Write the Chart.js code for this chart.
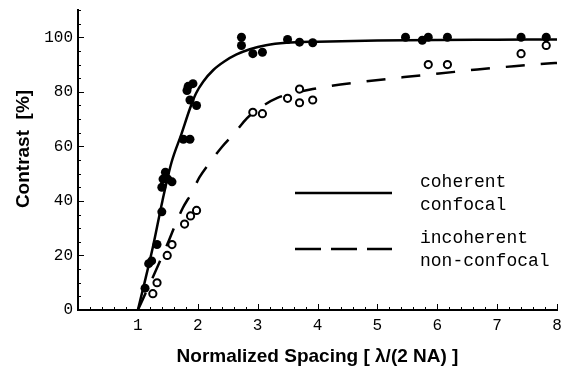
<!DOCTYPE html>
<html>
<head>
<meta charset="utf-8">
<script src="https://cdn.jsdelivr.net/npm/chart.js@4"></script>
<style>
  html, body { margin: 0; padding: 0; background: #fff; }
  #wrap { width: 563px; height: 374px; }
</style>
</head>
<body>
<div id="wrap"><canvas id="chart" width="563" height="374"></canvas></div>
<script>
// measured points, coherent confocal (filled)
const cohX = [1.12, 1.18, 1.23, 1.32, 1.40, 1.40, 1.42, 1.46, 1.50, 1.57, 1.76, 1.87, 1.82, 1.84, 1.92, 1.87, 1.98,
              2.73, 2.73, 2.92, 3.08, 3.5, 3.7, 3.92, 5.47, 5.75, 5.85, 6.17, 7.4, 7.82];
const cohY = [8, 17, 18, 24, 36, 45, 48, 50.5, 48, 47, 62.6, 62.6, 80.5, 82, 83, 77, 75,
              100, 97, 94, 94.5, 99.2, 98.2, 98, 100, 98.9, 100, 100, 100, 100];

// measured points, incoherent non-confocal (open)
const incX = [1.25, 1.32, 1.49, 1.57, 1.78, 1.88, 1.98, 2.92, 3.08, 3.5, 3.7, 3.7, 3.92, 5.85, 6.17, 7.4, 7.82];
const incY = [6, 10, 20, 24, 31.5, 34.5, 36.5, 72.5, 72, 77.6, 81, 76, 77, 90, 90, 94, 97];

// theory curves
const solidX = [1, 1.1, 1.25, 1.41, 1.56, 1.73, 1.87, 1.97, 2.09, 2.26, 2.45, 2.64, 2.87, 3.14, 3.48, 4, 5, 6, 7, 8];
const solidY = [0, 9, 23, 40, 54, 64.7, 73.9, 79.4, 83.7, 88, 91.2, 93.6, 95.6, 97.1, 98, 98.4, 98.8, 99, 99.1, 99.2];

const dashX = [1, 1.25, 1.37, 1.52, 1.62, 1.75, 1.9, 2.03, 2.22, 2.4, 2.62, 2.82, 3.03, 3.33, 3.92, 4.23, 4.8, 5.45, 6.03, 6.67, 7.28, 7.9, 8];
const dashY = [0, 12, 18, 25.6, 31, 37.4, 43, 48.7, 54.6, 59.7, 65, 70.3, 74, 77.8, 81, 82.2, 83.8, 85.4, 86.7, 88.2, 89.4, 90.5, 90.6];

const xTicks = [1, 2, 3, 4, 5, 6, 7, 8];
const yTicks = [0, 20, 40, 60, 80, 100];

const legendItems = [
  { lines: ['coherent', 'confocal'], dash: [] },
  { lines: ['incoherent', 'non-confocal'], dash: [26, 10] }
];

function zip(xs, ys) {
  return xs.map((x, i) => ({ x: x, y: ys[i] }));
}

const monoFont = 'Liberation Mono, Courier New, monospace';
const sansFont = 'Liberation Sans, Arial, Helvetica, sans-serif';

// inward tick marks like the original plot, plus legend and y title
const decor = {
  id: 'decor',
  afterDraw(chart) {
    const { ctx, scales: { x, y } } = chart;
    ctx.save();
    ctx.strokeStyle = '#000';
    ctx.lineWidth = 1;
    const x0 = x.getPixelForValue(0);
    const y0 = y.getPixelForValue(0);
    for (let i = 1; i <= 40; i++) {
      const px = Math.round(x.getPixelForValue(i / 5)) + 0.5;
      const len = i % 5 === 0 ? 6 : 3;
      ctx.beginPath();
      ctx.moveTo(px, y0);
      ctx.lineTo(px, y0 - len);
      ctx.stroke();
    }
    for (let i = 1; i <= 22; i++) {
      const py = Math.round(y.getPixelForValue(i * 5)) + 0.5;
      const len = (i * 5) % 20 === 0 ? 6 : 3;
      ctx.beginPath();
      ctx.moveTo(x0, py);
      ctx.lineTo(x0 + len, py);
      ctx.stroke();
    }

    // legend
    ctx.lineWidth = 2.5;
    ctx.fillStyle = '#000';
    ctx.font = '18px ' + monoFont;
    ctx.textBaseline = 'middle';
    ctx.textAlign = 'left';
    legendItems.forEach((item, k) => {
      const ly = 193 + k * 56;
      ctx.setLineDash(item.dash);
      ctx.beginPath();
      ctx.moveTo(295, ly);
      ctx.lineTo(392, ly);
      ctx.stroke();
      ctx.fillText(item.lines[0], 420, ly - 11);
      ctx.fillText(item.lines[1], 420, ly + 12);
    });
    ctx.setLineDash([]);

    // y title
    ctx.font = 'bold 19px ' + sansFont;
    ctx.textAlign = 'center';
    ctx.translate(24, 149);
    ctx.rotate(-Math.PI / 2);
    ctx.fillText('Contrast  [%]', 0, 0);
    ctx.restore();
  }
};

new Chart(document.getElementById('chart').getContext('2d'), {
  type: 'scatter',
  data: {
    datasets: [
      {
        label: 'coherent data',
        data: zip(cohX, cohY),
        pointRadius: 4.5,
        pointBackgroundColor: '#000',
        pointBorderColor: '#000',
        pointBorderWidth: 0,
        showLine: false,
        order: 0
      },
      {
        label: 'incoherent data',
        data: zip(incX, incY),
        pointRadius: 3.6,
        pointBackgroundColor: '#fff',
        pointBorderColor: '#000',
        pointBorderWidth: 2,
        showLine: false,
        order: 1
      },
      {
        label: 'coherent confocal',
        data: zip(solidX, solidY),
        showLine: true,
        borderColor: '#000',
        borderWidth: 2.5,
        pointRadius: 0,
        cubicInterpolationMode: 'monotone',
        order: 2
      },
      {
        label: 'incoherent non-confocal',
        data: zip(dashX, dashY),
        showLine: true,
        borderColor: '#000',
        borderWidth: 2.5,
        borderDash: [19, 16],
        pointRadius: 0,
        cubicInterpolationMode: 'monotone',
        order: 3
      }
    ]
  },
  options: {
    responsive: false,
    animation: false,
    layout: { padding: { top: 10, right: 5, left: 0, bottom: 0 } },
    plugins: { legend: { display: false }, tooltip: { enabled: false } },
    scales: {
      x: {
        type: 'linear',
        min: 0,
        max: 8,
        afterFit: s => { s.height = 64; s.paddingLeft = 0; s.paddingRight = 0; },
        afterBuildTicks: s => { s.ticks = xTicks.map(v => ({ value: v })); },
        grid: { display: false, drawTicks: false },
        border: { color: '#000', width: 2 },
        ticks: {
          color: '#000',
          padding: 6,
          maxRotation: 0,
          font: { family: monoFont, size: 16 }
        },
        title: {
          display: true,
          text: 'Normalized Spacing [ λ/(2 NA) ]',
          color: '#000',
          font: { family: sansFont, size: 19, weight: 'bold' },
          padding: { top: 0, bottom: 6 }
        }
      },
      y: {
        type: 'linear',
        min: 0,
        max: 110,
        afterFit: s => { s.width = 78; s.paddingTop = 0; s.paddingBottom = 0; },
        afterBuildTicks: s => { s.ticks = yTicks.map(v => ({ value: v })); },
        grid: { display: false, drawTicks: false },
        border: { color: '#000', width: 2 },
        ticks: {
          color: '#000',
          padding: 5,
          font: { family: monoFont, size: 16 }
        }
      }
    }
  },
  plugins: [decor]
});
</script>
</body>
</html>
